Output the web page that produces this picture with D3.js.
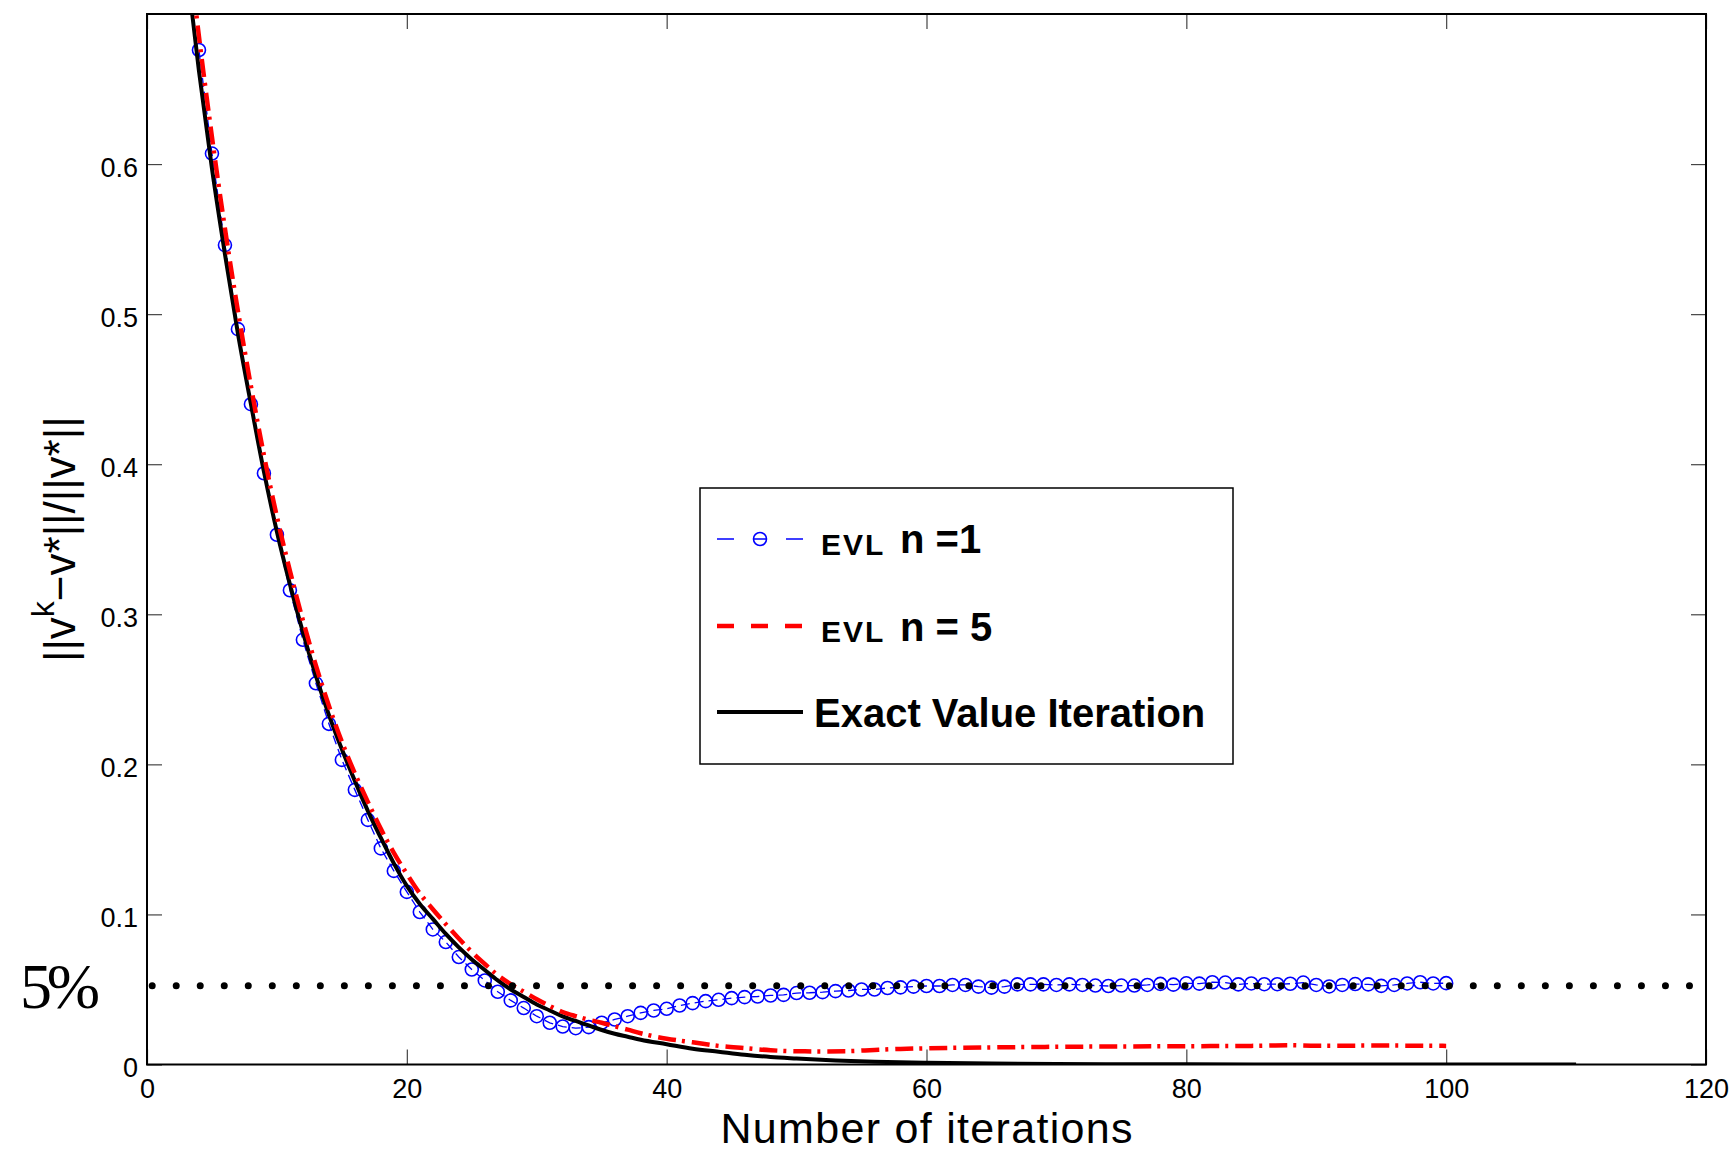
<!DOCTYPE html>
<html>
<head>
  <meta charset="utf-8">
  <title>EVL convergence</title>
  <style>
    body {
      margin: 0;
      background: #fff;
    }

    svg {
      font-family: "Liberation Sans", Arial, sans-serif;
    }

    .tick line {
      stroke: #444;
      stroke-width: 1.2;
    }

    .tick text {
      font-size: 27px;
      fill: #000;
    }

    .legend-text {
      font-weight: bold;
      fill: #000;
    }
  </style>
</head>
<body>
  <script src="https://d3js.org/d3.v7.min.js"></script>
  <script>
    // x ticks / y ticks
    const xTicks = [0, 20, 40, 60, 80, 100, 120];
    const yTicks = [0, 0.1, 0.2, 0.3, 0.4, 0.5, 0.6];

    // EVL n = 1 (blue circles), one value per iteration 4..100
    const evl1Iter = d3.range(4, 101);
    const evl1Vals = [
      0.676, 0.607, 0.546, 0.490, 0.440, 0.394, 0.353, 0.316, 0.283, 0.254,
      0.227, 0.203, 0.183, 0.163, 0.144, 0.129, 0.115, 0.1016, 0.090, 0.0816,
      0.0716, 0.0633, 0.056, 0.0485, 0.0427, 0.0376, 0.0322, 0.0278, 0.0253, 0.0242,
      0.0249, 0.0278, 0.0300, 0.0322, 0.0344, 0.0360, 0.0371, 0.0393, 0.0409, 0.0422,
      0.0431, 0.0442, 0.0449, 0.0453, 0.0460, 0.0464, 0.0476, 0.0478, 0.0482, 0.0489,
      0.0493, 0.0500, 0.0500, 0.0510, 0.0514, 0.0519, 0.0523, 0.0523, 0.0530, 0.0530,
      0.0519, 0.0512, 0.0519, 0.0534, 0.0534, 0.0534, 0.0530, 0.0534, 0.0530, 0.0526,
      0.0523, 0.0526, 0.0526, 0.0530, 0.0537, 0.0532, 0.0541, 0.0539, 0.0548, 0.0546,
      0.0534, 0.0540, 0.0535, 0.0535, 0.0538, 0.0546, 0.0530, 0.0520, 0.0530, 0.0536,
      0.0534, 0.0524, 0.0530, 0.0540, 0.0548, 0.0540, 0.0542
    ];

    // EVL n = 5 (red dashed)
    const evl5Iter = [3, 4, 5, 6, 7, 8, 9, 10, 11, 12, 13, 14, 15, 16, 17, 18, 19, 20,
      21, 22, 23, 24, 25, 26, 27, 28, 29, 30, 31, 32, 33, 34, 35, 36, 37, 38, 39, 40,
      42, 44, 46, 48, 50, 52, 54, 56, 58, 60, 65, 70, 75, 80, 85, 88, 90, 95, 100];
    const evl5Vals = [0.76, 0.685, 0.618, 0.557, 0.502, 0.452, 0.406, 0.365, 0.329, 0.296,
      0.266, 0.239, 0.215, 0.194, 0.175, 0.157, 0.141, 0.127, 0.114, 0.1035, 0.0935, 0.084,
      0.075, 0.067, 0.0595, 0.0535, 0.0485, 0.0435, 0.0390, 0.0350, 0.0322, 0.0298, 0.0278,
      0.0255, 0.0232, 0.0208, 0.0188, 0.0172, 0.0148, 0.0124, 0.0109, 0.0095, 0.0088,
      0.0087, 0.0089, 0.0097, 0.0104, 0.0108, 0.0114, 0.0118, 0.0120, 0.0122, 0.0124,
      0.0128, 0.0125, 0.0126, 0.0124];

    // Exact value iteration (black solid)
    const exactIter = [3, 4, 5, 6, 7, 8, 9, 10, 11, 12, 13, 14, 15, 16, 17, 18, 19, 20,
      21, 22, 23, 24, 25, 26, 27, 28, 29, 30, 31, 32, 33, 34, 35, 36, 37, 38, 40, 42, 44,
      46, 48, 50, 53, 56, 60, 65, 70, 80, 90, 100, 110];
    const exactVals = [0.735, 0.662, 0.597, 0.540, 0.487, 0.440, 0.395, 0.355, 0.320, 0.288,
      0.259, 0.233, 0.210, 0.189, 0.169, 0.151, 0.134, 0.119, 0.107, 0.097, 0.087, 0.078,
      0.070, 0.063, 0.056, 0.050, 0.045, 0.040, 0.036, 0.032, 0.029, 0.026, 0.023, 0.0205,
      0.0185, 0.0165, 0.0135, 0.0105, 0.0085, 0.0065, 0.005, 0.004, 0.0027, 0.0018, 0.0011,
      0.0006, 0.0003, 0.0001, 0, 0, 0];

    // 5% reference line
    const thresholdValue = 0.0525;
    const thresholdSpan = [0.4, 120.55];

    const width = 1733;
    const height = 1152;
    const margin = { top: 14, right: 27, bottom: 87.5, left: 147 };

    const x = d3.scaleLinear()
      .domain([0, 120])
      .range([margin.left, width - margin.right]);

    const y = d3.scaleLinear()
      .domain([0, 0.7])
      .range([height - margin.bottom, margin.top]);

    const svg = d3.select("body")
      .append("svg")
      .attr("width", width)
      .attr("height", height);

    svg.append("defs").append("clipPath")
      .attr("id", "plot-clip")
      .append("rect")
      .attr("x", x(0))
      .attr("y", y(0.7))
      .attr("width", x(120) - x(0))
      .attr("height", y(0) - y(0.7));

    // axes (ticks pointing inward, box all round)
    svg.append("g")
      .attr("transform", `translate(0,${y(0)})`)
      .call(d3.axisBottom(x).tickValues(xTicks).tickSize(-15).tickSizeOuter(0).tickPadding(14.5))
      .call(g => g.select(".domain").remove());

    svg.append("g")
      .attr("transform", `translate(${x(0)},0)`)
      .call(d3.axisLeft(y).tickValues(yTicks).tickSize(-15).tickSizeOuter(0).tickPadding(9)
        .tickFormat(d3.format("")))
      .call(g => g.select(".domain").remove())
      .call(g => g.selectAll(".tick text").attr("dy", "0.45em"));

    svg.append("g")
      .attr("transform", `translate(0,${y(0.7)})`)
      .call(d3.axisTop(x).tickValues(xTicks).tickSize(-15).tickSizeOuter(0).tickFormat(""))
      .call(g => g.select(".domain").remove());

    svg.append("g")
      .attr("transform", `translate(${x(120)},0)`)
      .call(d3.axisRight(y).tickValues(yTicks).tickSize(-15).tickSizeOuter(0).tickFormat(""))
      .call(g => g.select(".domain").remove());

    svg.append("rect")
      .attr("x", x(0))
      .attr("y", y(0.7))
      .attr("width", x(120) - x(0))
      .attr("height", y(0) - y(0.7))
      .attr("fill", "none")
      .attr("stroke", "#000")
      .attr("stroke-width", 2);

    const plot = svg.append("g").attr("clip-path", "url(#plot-clip)");

    // EVL n=1
    const evl1 = evl1Iter.map((k, i) => [k, evl1Vals[i]]);
    plot.append("path")
      .datum(evl1)
      .attr("fill", "none")
      .attr("stroke", "#0000ff")
      .attr("stroke-width", 1.3)
      .attr("stroke-dasharray", "9 5")
      .attr("d", d3.line().x(d => x(d[0])).y(d => y(d[1])));

    plot.selectAll(".evl1-marker")
      .data(evl1)
      .enter()
      .append("circle")
      .attr("class", "evl1-marker")
      .attr("cx", d => x(d[0]))
      .attr("cy", d => y(d[1]))
      .attr("r", 6.5)
      .attr("fill", "none")
      .attr("stroke", "#0000ff")
      .attr("stroke-width", 1.6);

    // exact VI
    plot.append("path")
      .datum(exactIter.map((k, i) => [k, exactVals[i]]))
      .attr("fill", "none")
      .attr("stroke", "#000")
      .attr("stroke-width", 4)
      .attr("d", d3.line().curve(d3.curveMonotoneX).x(d => x(d[0])).y(d => y(d[1])));

    // EVL n=5
    plot.append("path")
      .datum(evl5Iter.map((k, i) => [k, evl5Vals[i]]))
      .attr("fill", "none")
      .attr("stroke", "#ff0000")
      .attr("stroke-width", 4.5)
      .attr("stroke-dasharray", "18 6 3 7")
      .attr("d", d3.line().curve(d3.curveMonotoneX).x(d => x(d[0])).y(d => y(d[1])));

    // 5% dotted line
    svg.append("line")
      .attr("x1", x(thresholdSpan[0]))
      .attr("x2", x(thresholdSpan[1]))
      .attr("y1", y(thresholdValue))
      .attr("y2", y(thresholdValue))
      .attr("stroke", "#000")
      .attr("stroke-width", 7)
      .attr("stroke-linecap", "round")
      .attr("stroke-dasharray", "0 24.02");

    svg.append("text")
      .attr("x", 20)
      .attr("y", y(thresholdValue) + 22)
      .attr("font-family", "'Liberation Serif', 'Times New Roman', serif")
      .attr("font-size", 64)
      .attr("textLength", 80)
      .text("5%");

    // axis titles
    svg.append("text")
      .attr("x", (x(0) + x(120)) / 2)
      .attr("y", 1143)
      .attr("text-anchor", "middle")
      .attr("font-size", 43)
      .attr("textLength", 412)
      .text("Number of iterations");

    const yLabel = svg.append("text")
      .attr("transform", `translate(75,${(y(0) + y(0.7)) / 2}) rotate(-90)`)
      .attr("text-anchor", "middle")
      .attr("font-size", 44);
    yLabel.append("tspan").text("||v");
    yLabel.append("tspan").attr("dy", -21).attr("font-size", 32).text("k");
    yLabel.append("tspan").attr("dy", 21).text("−v*||/||v*||");

    // legend
    const legend = svg.append("g");
    legend.append("rect")
      .attr("x", 700)
      .attr("y", 488)
      .attr("width", 533)
      .attr("height", 276)
      .attr("fill", "#fff")
      .attr("stroke", "#000")
      .attr("stroke-width", 1.5);

    legend.append("line")
      .attr("x1", 717).attr("x2", 803).attr("y1", 539).attr("y2", 539)
      .attr("stroke", "#0000ff").attr("stroke-width", 1.3)
      .attr("stroke-dasharray", "17 20 12 20 17");
    legend.append("circle")
      .attr("cx", 760).attr("cy", 539).attr("r", 6.5)
      .attr("fill", "none").attr("stroke", "#0000ff").attr("stroke-width", 1.6);

    legend.append("line")
      .attr("x1", 717).attr("x2", 803).attr("y1", 626).attr("y2", 626)
      .attr("stroke", "#ff0000").attr("stroke-width", 4.5)
      .attr("stroke-dasharray", "17 17");

    legend.append("line")
      .attr("x1", 717).attr("x2", 803).attr("y1", 712).attr("y2", 712)
      .attr("stroke", "#000").attr("stroke-width", 4);

    legend.append("text").attr("class", "legend-text")
      .attr("x", 821).attr("y", 555).attr("font-size", 30).attr("letter-spacing", 2)
      .text("EVL");
    legend.append("text").attr("class", "legend-text")
      .attr("x", 900).attr("y", 553).attr("font-size", 40)
      .text("n =1");

    legend.append("text").attr("class", "legend-text")
      .attr("x", 821).attr("y", 642).attr("font-size", 30).attr("letter-spacing", 2)
      .text("EVL");
    legend.append("text").attr("class", "legend-text")
      .attr("x", 900).attr("y", 641).attr("font-size", 40)
      .text("n = 5");

    legend.append("text").attr("class", "legend-text")
      .attr("x", 814).attr("y", 727).attr("font-size", 40)
      .text("Exact Value Iteration");
  </script>
</body>
</html>
